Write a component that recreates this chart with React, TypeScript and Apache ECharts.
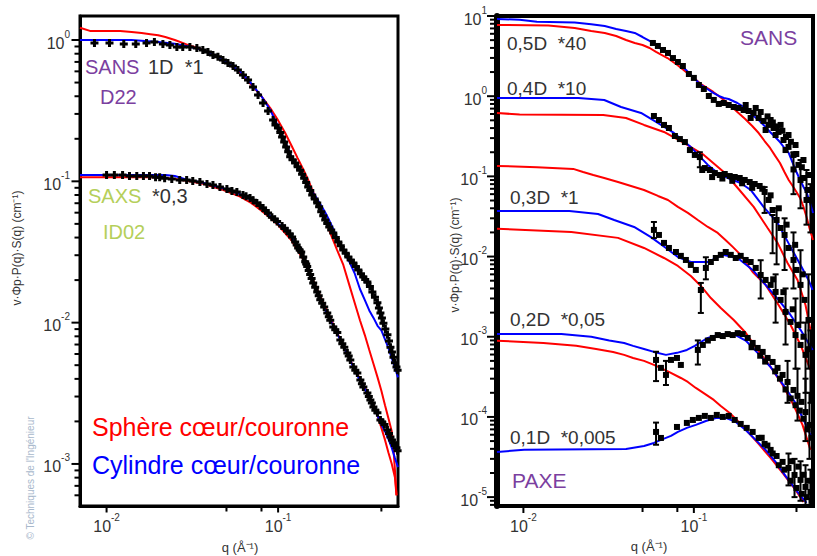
import { useEffect, useRef } from 'react';
import * as echarts from 'echarts';

type P = [number, number];
type E = [number, number, number];

// ---------- axes ----------
const Q_MIN = 0.007;
const Q_MAX = 0.5;
const LEFT_I_MIN = 5.04e-4;
const LEFT_I_MAX = 1.479;
const RIGHT_I_MIN = 7.75e-6;
const RIGHT_I_MAX = 10;
const X_MAJOR = [0.01, 0.1];
const X_MINOR = [0.05, 0.08, 0.4];
const LEFT_DECADES = [1e-4, 1e-3, 1e-2, 1e-1, 1];
const RIGHT_DECADES = [1e-6, 1e-5, 1e-4, 1e-3, 1e-2, 1e-1, 1, 10];
const MINOR_STEPS = [2, 3, 4, 5, 6, 7, 8, 9];

// ---------- left panel (SANS D22 / SAXS ID02) ----------
const sansRedL: P[] = [[0.007,1.22],[0.008,1.16],[0.012,1.16],[0.014,1.14],[0.016,1.12],[0.018,1.10],[0.02,1.08],[0.022,1.05],[0.025,1.0],[0.028,0.95],[0.03,0.92],[0.035,0.87],[0.04,0.81],[0.05,0.69],[0.06,0.59],[0.07,0.48],[0.08,0.40],[0.09,0.33],[0.1,0.27],[0.11,0.22],[0.12,0.178],[0.13,0.146],[0.14,0.122],[0.15,0.102],[0.16,0.084],[0.17,0.072],[0.18,0.061],[0.19,0.052],[0.2,0.044],[0.22,0.033],[0.24,0.0256],[0.26,0.0185],[0.28,0.0137],[0.3,0.0104],[0.32,0.0082],[0.34,0.0064],[0.36,0.0051],[0.38,0.0041],[0.4,0.0033],[0.42,0.0026],[0.44,0.0021],[0.46,0.0017],[0.47,0.0013],[0.48,0.0009],[0.49,0.0006]];
const sansBlueL: P[] = [[0.007,1.0],[0.014,1.0],[0.016,0.99],[0.02,0.97],[0.025,0.94],[0.03,0.90],[0.035,0.86],[0.04,0.81],[0.05,0.70],[0.06,0.60],[0.07,0.49],[0.08,0.40],[0.09,0.32],[0.1,0.245],[0.11,0.19],[0.12,0.149],[0.13,0.126],[0.14,0.111],[0.15,0.095],[0.16,0.083],[0.17,0.074],[0.18,0.066],[0.19,0.059],[0.2,0.052],[0.22,0.0404],[0.24,0.0327],[0.26,0.027],[0.28,0.0222],[0.3,0.0173],[0.32,0.0145],[0.34,0.0122],[0.36,0.0108],[0.38,0.0095],[0.4,0.0088],[0.42,0.0076],[0.44,0.0066],[0.46,0.0056],[0.48,0.0048],[0.5,0.0041]];
const sansDataL: P[] = [[0.0085,0.952],[0.0104,0.952],[0.0126,0.937],[0.0148,0.937],[0.0171,0.952],[0.019,0.968],[0.0213,0.937],[0.0234,0.922],[0.0257,0.892],[0.0278,0.892],[0.0306,0.892],[0.0336,0.878],[0.0364,0.85],[0.039,0.822],[0.0417,0.783],[0.0446,0.76],[0.0477,0.722],[0.051,0.688],[0.0546,0.655],[0.0583,0.613],[0.0624,0.565],[0.0668,0.521],[0.0714,0.465],[0.0764,0.408],[0.0817,0.358],[0.0874,0.314],[0.0935,0.272],[0.1,0.238],[0.1055,0.206],[0.1114,0.175],[0.1176,0.149],[0.1258,0.135],[0.1345,0.12],[0.1419,0.105],[0.1498,0.0912],[0.1581,0.08],[0.1691,0.0702],[0.1784,0.061],[0.1883,0.0532],[0.1988,0.0475],[0.2098,0.0431],[0.2244,0.0372],[0.24,0.0327],[0.2567,0.0291],[0.2746,0.0264],[0.2937,0.0236],[0.3141,0.021],[0.3315,0.0194],[0.3545,0.0165],[0.3793,0.0138],[0.3949,0.0117],[0.4111,0.0099],[0.434,0.0082],[0.4519,0.0067],[0.4705,0.0057],[0.4898,0.00485],[0.0965,0.25],[0.103,0.222],[0.1085,0.19],[0.1145,0.162],[0.1215,0.142],[0.13,0.127],[0.138,0.112],[0.1458,0.098],[0.154,0.086],[0.1635,0.075],[0.1735,0.066],[0.1833,0.057],[0.1935,0.0503],[0.204,0.0452],[0.217,0.04],[0.232,0.035],[0.248,0.031],[0.265,0.0277],[0.284,0.025],[0.304,0.0222],[0.322,0.0202],[0.343,0.018],[0.367,0.0151],[0.387,0.0127],[0.403,0.0108],[0.422,0.009],[0.443,0.0074],[0.461,0.0062],[0.48,0.0052],[0.4973,0.0046]];
const saxsRedL: P[] = [[0.007,0.107],[0.02,0.107],[0.025,0.104],[0.03,0.1005],[0.037,0.0957],[0.048,0.0868],[0.06,0.078],[0.07,0.07],[0.08,0.062],[0.09,0.055],[0.1,0.049],[0.12,0.038],[0.14,0.028],[0.16,0.02],[0.18,0.0145],[0.2,0.011],[0.22,0.0086],[0.24,0.0068],[0.26,0.0056],[0.28,0.0047],[0.3,0.004],[0.32,0.0035],[0.34,0.003],[0.36,0.0026],[0.38,0.0022],[0.4,0.0018],[0.42,0.00148],[0.44,0.0012],[0.46,0.001],[0.48,0.0008],[0.49,0.0006]];
const saxsBlueL: P[] = [[0.007,0.111],[0.022,0.111],[0.025,0.109],[0.03,0.102],[0.035,0.099],[0.04,0.095],[0.05,0.088],[0.06,0.081],[0.07,0.074],[0.08,0.066],[0.09,0.057],[0.1,0.05],[0.11,0.046],[0.12,0.041],[0.13,0.034],[0.14,0.029],[0.15,0.024],[0.16,0.019],[0.18,0.0137],[0.2,0.0106],[0.22,0.0085],[0.24,0.0068],[0.26,0.0056],[0.28,0.0046],[0.3,0.0039],[0.32,0.0034],[0.34,0.0029],[0.36,0.0025],[0.38,0.0022],[0.4,0.0019],[0.42,0.0017],[0.44,0.0015],[0.46,0.0013],[0.48,0.0011],[0.5,0.00095]];
const saxsDataL: P[] = [[0.01,0.111],[0.0111,0.111],[0.0124,0.111],[0.0136,0.109],[0.015,0.109],[0.0164,0.109],[0.0178,0.109],[0.0193,0.107],[0.0204,0.107],[0.0218,0.105],[0.024,0.104],[0.0267,0.102],[0.0293,0.102],[0.0318,0.1005],[0.035,0.099],[0.0385,0.0957],[0.0417,0.0942],[0.0458,0.0912],[0.0503,0.0883],[0.0538,0.0853],[0.0575,0.084],[0.0624,0.08],[0.0686,0.0763],[0.0752,0.0702],[0.0817,0.0647],[0.0874,0.0597],[0.092,0.0557],[0.0987,0.052],[0.1055,0.0483],[0.1129,0.0445],[0.1207,0.0404],[0.1258,0.0372],[0.1309,0.0337],[0.1364,0.0316],[0.1401,0.0291],[0.1439,0.027],[0.1478,0.025],[0.1538,0.0219],[0.1602,0.0191],[0.1691,0.0165],[0.1761,0.0145],[0.1857,0.0129],[0.1935,0.0117],[0.2014,0.0104],[0.2098,0.0093],[0.2214,0.0085],[0.2306,0.00753],[0.2432,0.0067],[0.2533,0.0061],[0.2636,0.00544],[0.2746,0.00485],[0.2897,0.0044],[0.3017,0.00393],[0.3141,0.0035],[0.3315,0.00318],[0.3451,0.00283],[0.3594,0.00253],[0.3793,0.0023],[0.3949,0.00205],[0.4167,0.0019],[0.434,0.00174],[0.4519,0.00155],[0.4705,0.00141],[0.4898,0.0013],[0.065,0.0785],[0.0715,0.0735],[0.0785,0.0675],[0.0845,0.062],[0.0955,0.0538],[0.109,0.0465],[0.1168,0.0425],[0.1283,0.0355],[0.1336,0.0326],[0.1458,0.026],[0.1508,0.0234],[0.1568,0.0205],[0.1645,0.0178],[0.1725,0.0155],[0.1808,0.0137],[0.1975,0.011],[0.2155,0.0089],[0.2368,0.0071],[0.258,0.0058],[0.282,0.0046],[0.308,0.0037],[0.338,0.003],[0.352,0.0027],[0.369,0.0024],[0.405,0.00197],[0.443,0.00164],[0.461,0.00148],[0.48,0.00135],[0.4973,0.00124]];

// ---------- right panel (SANS / PAXE dilutions) ----------
const blue05: P[] = [[0.007,9.18],[0.0095,9.0],[0.012,8.5],[0.02,8.3],[0.025,7.9],[0.03,7.5],[0.035,6.89],[0.04,6.5],[0.045,6.14],[0.05,5.47],[0.055,4.88],[0.06,4.35],[0.065,3.77],[0.07,3.46],[0.075,2.99],[0.08,2.67],[0.09,2.12],[0.1,1.69],[0.11,1.38],[0.12,1.23],[0.13,1.1],[0.14,1.006],[0.15,0.95],[0.16,0.923],[0.18,0.822],[0.2,0.713],[0.22,0.583],[0.24,0.505],[0.26,0.425],[0.28,0.358],[0.3,0.31],[0.32,0.268],[0.34,0.226],[0.36,0.196],[0.38,0.147],[0.4,0.1135],[0.42,0.0902],[0.44,0.0738],[0.46,0.0621],[0.48,0.0466],[0.5,0.035]];
const red05: P[] = [[0.007,7.73],[0.014,7.6],[0.02,7.08],[0.025,6.5],[0.03,6.14],[0.035,5.63],[0.04,5.02],[0.045,4.61],[0.05,4.35],[0.055,3.99],[0.06,3.56],[0.07,2.99],[0.08,2.45],[0.09,2.0],[0.1,1.69],[0.11,1.42],[0.12,1.26],[0.13,1.13],[0.14,1.006],[0.15,0.898],[0.16,0.8],[0.18,0.635],[0.2,0.52],[0.22,0.425],[0.24,0.347],[0.26,0.276],[0.28,0.226],[0.3,0.18],[0.32,0.147],[0.34,0.1135],[0.36,0.0902],[0.38,0.0759],[0.4,0.0638],[0.42,0.0538],[0.44,0.0415],[0.46,0.0303],[0.48,0.0215],[0.5,0.0161]];
const data05: P[] = [[0.0575,4.61],[0.0615,4.23],[0.0659,3.77],[0.0705,3.46],[0.0754,2.99],[0.0806,2.67],[0.0862,2.38],[0.0935,1.89],[0.1,1.69],[0.107,1.38],[0.1144,1.23],[0.1224,1.006],[0.1309,0.898],[0.14,0.8],[0.1497,0.822],[0.1601,0.777],[0.1713,0.733],[0.1832,0.713],[0.1959,0.673],[0.2096,0.654],[0.2242,0.618],[0.2398,0.535],[0.2565,0.491],[0.2744,0.438],[0.2935,0.401],[0.3139,0.358],[0.3358,0.284],[0.3592,0.233],[0.3842,0.185],[0.4109,0.139],[0.4395,0.0955],[0.4641,0.0676],[0.4831,0.0508],[0.2014,0.777],[0.2154,0.535],[0.2306,0.713],[0.2466,0.635],[0.2636,0.379],[0.2821,0.505],[0.3017,0.328],[0.3227,0.438],[0.3451,0.213],[0.3592,0.328],[0.3842,0.122],[0.3949,0.246],[0.4224,0.09],[0.4395,0.16],[0.458,0.0508],[0.4705,0.104],[0.2706,0.56],[0.2906,0.47],[0.3067,0.42],[0.3305,0.37],[0.347,0.31],[0.371,0.27],[0.399,0.19],[0.43,0.13]];
const err05: E[] = [[0.3842,0.06,0.2],[0.4224,0.04,0.16],[0.458,0.025,0.12],[0.4831,0.02,0.08]];

const blue04: P[] = [[0.007,0.95],[0.021,0.95],[0.0298,0.896],[0.0374,0.733],[0.049,0.618],[0.06,0.477],[0.0764,0.348],[0.096,0.232],[0.1208,0.139],[0.1381,0.11],[0.158,0.0955],[0.1883,0.0827],[0.2154,0.0677],[0.2565,0.0416],[0.3097,0.0263],[0.369,0.0132],[0.4224,0.00786],[0.4705,0.00511],[0.497,0.00383]];
const red04: P[] = [[0.007,0.618],[0.0095,0.59],[0.0294,0.582],[0.04,0.535],[0.051,0.438],[0.0668,0.358],[0.0874,0.261],[0.1144,0.185],[0.1498,0.1135],[0.1809,0.0716],[0.2244,0.0416],[0.2709,0.0227],[0.3097,0.0148],[0.3545,0.00832],[0.4056,0.00511],[0.4519,0.00249],[0.4831,0.00122]];
const data04: P[] = [[0.0583,0.566],[0.0624,0.505],[0.0668,0.438],[0.0714,0.401],[0.0774,0.319],[0.0828,0.292],[0.0886,0.268],[0.0948,0.213],[0.1013,0.185],[0.1084,0.174],[0.116,0.127],[0.1241,0.12],[0.1327,0.11],[0.1419,0.104],[0.1518,0.107],[0.1623,0.101],[0.1737,0.0983],[0.1858,0.0955],[0.1988,0.0902],[0.2126,0.085],[0.2274,0.0804],[0.2432,0.0759],[0.2601,0.0639],[0.2744,0.0508],[0.2897,0.0381],[0.3058,0.0286],[0.3227,0.0227],[0.3406,0.0186],[0.3592,0.0128],[0.3842,0.00907],[0.4003,0.00681],[0.4224,0.00443],[0.4457,0.00288],[0.4705,0.00162],[0.112,0.12],[0.128,0.098],[0.147,0.094],[0.168,0.088],[0.192,0.082],[0.22,0.072],[0.252,0.07],[0.282,0.058],[0.315,0.04],[0.35,0.025],[0.393,0.014],[0.435,0.006]];
const err04: E[] = [[0.1084,0.13,0.2],[0.2601,0.035,0.0735],[0.2897,0.011,0.033],[0.3058,0.008,0.04],[0.3406,0.0068,0.03],[0.3842,0.004,0.02],[0.4224,0.0015,0.012],[0.4705,0.0004,0.006]];

const redUpper03: P[] = [[0.007,0.135],[0.012,0.13],[0.0196,0.124],[0.0224,0.1135],[0.0257,0.104],[0.0298,0.0955],[0.0359,0.085],[0.0428,0.0759],[0.051,0.0677],[0.0616,0.057],[0.0705,0.0508],[0.0806,0.0416],[0.0922,0.035],[0.1055,0.0286],[0.1208,0.0234],[0.1381,0.0197],[0.1538,0.016],[0.1691,0.0132],[0.1883,0.0105],[0.2069,0.00786],[0.2213,0.00642],[0.2636,0.00443],[0.314,0.00249],[0.369,0.00141],[0.4224,0.00079],[0.4831,0.000386]];
const red03: P[] = [[0.007,0.0222],[0.0191,0.0202],[0.0359,0.0171],[0.051,0.0128],[0.0668,0.0096],[0.0806,0.00764],[0.096,0.00573],[0.1099,0.0043],[0.1258,0.00304],[0.1439,0.00228],[0.1714,0.00162],[0.2014,0.00112],[0.2367,0.000685],[0.2821,0.00042],[0.3315,0.00025],[0.3842,0.000141],[0.434,7.95e-5],[0.4831,3.88e-5]];
const blue03: P[] = [[0.007,0.037],[0.0186,0.037],[0.0274,0.034],[0.0341,0.0286],[0.0446,0.0234],[0.056,0.0175],[0.0686,0.0128],[0.0806,0.00989],[0.096,0.00856],[0.1208,0.00856],[0.1478,0.0105],[0.1809,0.0096],[0.2213,0.00681],[0.2636,0.00443],[0.314,0.00288],[0.369,0.00187],[0.4224,0.00122],[0.497,0.000685]];
const data03: P[] = [[0.0583,0.0215],[0.0624,0.0186],[0.0668,0.0148],[0.0714,0.0128],[0.0785,0.0114],[0.0839,0.0102],[0.0898,0.00907],[0.096,0.00786],[0.1027,0.00681],[0.1099,0.00383],[0.1176,0.00721],[0.1258,0.00856],[0.1345,0.0096],[0.1439,0.0105],[0.1538,0.0114],[0.1646,0.0105],[0.1761,0.0096],[0.1883,0.0102],[0.2014,0.00907],[0.2154,0.00856],[0.2306,0.00721],[0.2466,0.00589],[0.2636,0.00511],[0.2821,0.00443],[0.3017,0.00362],[0.3227,0.00288],[0.3451,0.00204],[0.369,0.00153],[0.3949,0.00105],[0.4224,0.00079],[0.4519,0.000594],[0.292,0.0052],[0.335,0.0036],[0.38,0.0022],[0.41,0.0014],[0.44,0.001],[0.47,0.0007]];
const err03: E[] = [[0.0583,0.017,0.027],[0.1099,0.00198,0.00469],[0.1176,0.0052,0.0098],[0.2466,0.003,0.009],[0.3017,0.0015,0.006],[0.3451,0.0008,0.004],[0.3949,0.0004,0.003],[0.4519,0.0002,0.0015],[0.4831,0.00015,0.0012]];

const blue02: P[] = [[0.007,0.00108],[0.0167,0.00108],[0.025,0.001],[0.0319,0.000897],[0.039,0.000837],[0.044,0.00077],[0.051,0.000705],[0.0583,0.000647],[0.0686,0.000594],[0.0796,0.00063],[0.091,0.000685],[0.1013,0.00077],[0.1099,0.00086],[0.1208,0.000966],[0.1439,0.00108],[0.1714,0.00108],[0.2014,0.000897],[0.2335,0.000647],[0.2821,0.00042],[0.3097,0.000315],[0.3451,0.00023],[0.3949,0.000149],[0.458,7.72e-5],[0.497,5.17e-5]];
const red02: P[] = [[0.007,0.000893],[0.0131,0.000837],[0.0204,0.00077],[0.0267,0.000705],[0.0336,0.000647],[0.039,0.000594],[0.044,0.000544],[0.051,0.0005],[0.0583,0.000445],[0.0714,0.000364],[0.0839,0.000306],[0.0922,0.000273],[0.1027,0.00023],[0.116,0.000194],[0.1309,0.000163],[0.1439,0.000137],[0.1623,0.000112],[0.1883,8.18e-5],[0.2098,6.32e-5],[0.2398,4.61e-5],[0.2821,3.08e-5],[0.3359,1.94e-5],[0.3949,1.23e-5],[0.4395,8.7e-6]];
const data02: P[] = [[0.06,0.000514],[0.0641,0.000409],[0.0686,0.000334],[0.0734,0.000514],[0.0796,0.000544],[0.0839,0.000445],[0.1055,0.000685],[0.1129,0.00079],[0.1208,0.000897],[0.1292,0.000966],[0.1381,0.00105],[0.1478,0.00102],[0.158,0.00108],[0.1691,0.00105],[0.1809,0.00111],[0.1935,0.00108],[0.2069,0.000966],[0.2213,0.000837],[0.2367,0.000725],[0.2533,0.000647],[0.2709,0.000544],[0.2897,0.000485],[0.3097,0.000409],[0.3315,0.000334],[0.3545,0.000273],[0.3842,0.000217],[0.4056,0.000183],[0.4282,0.000154],[0.4519,0.000115],[0.4768,7.95e-5],[0.218,0.00074],[0.245,0.00058],[0.262,0.00049],[0.3,0.00037],[0.32,0.0003],[0.345,0.00022],[0.37,0.00017],[0.395,0.00014],[0.418,0.00012],[0.44,9.5e-5],[0.465,7e-5],[0.49,5.5e-5]];
const err02: E[] = [[0.06,0.00028,0.00065],[0.0686,0.00025,0.0005],[0.1055,0.00045,0.0009],[0.3545,0.00015,0.0005],[0.4056,0.00009,0.0004],[0.4519,0.00005,0.0003],[0.4768,0.00003,0.0002]];

const blue01: P[] = [[0.007,3.66e-5],[0.0101,3.9e-5],[0.04,3.99e-5],[0.051,4.35e-5],[0.0583,4.74e-5],[0.0641,5.17e-5],[0.0734,5.8e-5],[0.0806,6.5e-5],[0.091,7.3e-5],[0.1027,7.95e-5],[0.1176,8.91e-5],[0.1345,9.72e-5],[0.1538,9.72e-5],[0.1761,8.66e-5],[0.2014,6.88e-5],[0.2306,5.17e-5],[0.2636,3.88e-5],[0.3017,2.75e-5],[0.3451,1.84e-5],[0.4056,1.16e-5],[0.458,8.5e-6]];
const data01: P[] = [[0.06,6.5e-5],[0.0641,5.47e-5],[0.0796,7.5e-5],[0.091,8.42e-5],[0.0987,9.17e-5],[0.107,9.72e-5],[0.116,1.03e-4],[0.1258,9.72e-5],[0.1363,1.06e-4],[0.1478,1.0e-4],[0.1601,1.03e-4],[0.1737,9.17e-5],[0.1883,8.18e-5],[0.2042,7.3e-5],[0.2213,6.5e-5],[0.2398,5.47e-5],[0.2601,4.61e-5],[0.2821,3.88e-5],[0.3058,3.26e-5],[0.3315,2.75e-5],[0.3592,2.31e-5],[0.3896,1.89e-5],[0.4224,1.64e-5],[0.4519,1.34e-5],[0.4831,1.16e-5],[0.25,5.5e-5],[0.27,4.4e-5],[0.29,3.5e-5],[0.315,2.5e-5],[0.34,2.2e-5],[0.37,1.6e-5],[0.4,1.3e-5],[0.43,1.1e-5],[0.46,1.0e-5],[0.49,9e-6],[0.375,2.8e-5],[0.41,2.4e-5],[0.44,1.9e-5],[0.47,1.6e-5]];
const err01: E[] = [[0.06,4.5e-5,8.5e-5],[0.3592,1.4e-5,3.5e-5],[0.3896,1.0e-5,3e-5],[0.4224,9e-6,2.8e-5],[0.4519,8e-6,2.5e-5],[0.4831,8e-6,2.2e-5]];

// ---------- text ----------
const FONT = 'Arial, "Liberation Sans", sans-serif';
const RED = '#ff0000';
const BLUE = '#0000ff';
const PURPLE = '#7b3fa0';
const YGREEN = '#b5cf5a';
const DARK = '#333333';

function majors(decades: number[], lo: number, hi: number) {
  return decades.filter((d) => d >= lo * 0.999 && d <= hi * 1.001);
}
function minors(decades: number[], lo: number, hi: number) {
  const out: number[] = [];
  decades.forEach((d) => MINOR_STEPS.forEach((m) => {
    const v = d * m;
    if (v > lo && v < hi) out.push(v);
  }));
  return out;
}

function powLabel(v: number) {
  const l = Math.log10(v);
  const e = Math.round(l);
  if (Math.abs(l - e) > 1e-6) return '';
  return `{b|10}{s|${e}}`;
}
const richLabel = {
  b: { fontSize: 16, fontFamily: FONT, color: DARK, lineHeight: 22, verticalAlign: 'bottom' },
  s: { fontSize: 10, fontFamily: FONT, color: DARK, lineHeight: 22, verticalAlign: 'top' },
};

function yTicks(xi: number, yi: number, vals: number[], len: number, off: number, w: number) {
  return {
    type: 'custom', xAxisIndex: xi, yAxisIndex: yi, silent: true, clip: false, z: 10,
    data: vals.map((v) => [Q_MIN, v]),
    renderItem: (_p: any, api: any) => {
      const p = api.coord([api.value(0), api.value(1)]);
      return { type: 'line', shape: { x1: p[0] - off - len, y1: p[1], x2: p[0] - off + 1, y2: p[1] }, style: { stroke: '#000', lineWidth: w } };
    },
  };
}
function xTicks(xi: number, yi: number, vals: number[], yMin: number, len: number, off: number, w: number) {
  return {
    type: 'custom', xAxisIndex: xi, yAxisIndex: yi, silent: true, clip: false, z: 10,
    data: vals.map((v) => [v, yMin]),
    renderItem: (_p: any, api: any) => {
      const p = api.coord([api.value(0), api.value(1)]);
      return { type: 'line', shape: { x1: p[0], y1: p[1] + off - 1, x2: p[0], y2: p[1] + off + len }, style: { stroke: '#000', lineWidth: w } };
    },
  };
}
function lineS(xi: number, yi: number, data: P[], color: string) {
  return { type: 'line', xAxisIndex: xi, yAxisIndex: yi, data, symbol: 'none', showSymbol: false, silent: true, z: 2, lineStyle: { color, width: 2 }, itemStyle: { color } };
}
function dotS(xi: number, yi: number, data: P[], symbol: string, size: number) {
  return { type: 'scatter', xAxisIndex: xi, yAxisIndex: yi, data, symbol, symbolSize: size, silent: true, z: 4, itemStyle: { color: '#000', opacity: 1 } };
}
function errS(xi: number, yi: number, data: E[]) {
  return {
    type: 'custom', xAxisIndex: xi, yAxisIndex: yi, silent: true, z: 4, data,
    encode: { x: 0, y: [1, 2] },
    renderItem: (_p: any, api: any) => {
      const q = api.value(0);
      const lo = api.coord([q, api.value(1)]);
      const hi = api.coord([q, api.value(2)]);
      const st = { stroke: '#000', lineWidth: 2 };
      return {
        type: 'group', children: [
          { type: 'line', shape: { x1: lo[0], y1: lo[1], x2: hi[0], y2: hi[1] }, style: st },
          { type: 'line', shape: { x1: lo[0] - 3, y1: lo[1], x2: lo[0] + 3, y2: lo[1] }, style: st },
          { type: 'line', shape: { x1: hi[0] - 3, y1: hi[1], x2: hi[0] + 3, y2: hi[1] }, style: st },
        ],
      };
    },
  };
}
function txt(x: number, y: number, text: string, fill: string, size: number, rotation = 0, align = 'left') {
  return {
    type: 'text', x, y, rotation, silent: true, z: 20,
    style: { text, fill, fontSize: size, fontFamily: FONT, align, verticalAlign: 'middle', textAlign: align, textVerticalAlign: 'middle' },
  };
}

const PLUS = 'path://M2.5,0H5.5V2.5H8V5.5H5.5V8H2.5V5.5H0V2.5H2.5Z';

export default function App() {
  const ref = useRef<HTMLDivElement>(null);
  useEffect(() => {
    document.body.style.margin = '0';
    if (!ref.current) return;
    const chart = echarts.init(ref.current, null, { renderer: 'svg' });
    const xAxisBase = (gi: number) => ({
      type: 'log', gridIndex: gi, min: Q_MIN, max: Q_MAX, logBase: 10,
      axisLine: { show: true, lineStyle: { color: '#000', width: gi === 0 ? 3 : 4 } },
      axisTick: { show: false }, splitLine: { show: false }, minorTick: { show: false },
      axisLabel: { formatter: powLabel, rich: richLabel, margin: 6, hideOverlap: false },
    });
    const option: any = {
      animation: false,
      backgroundColor: '#ffffff',
      grid: [
        { left: 80, top: 16, width: 318, height: 490, show: true, borderColor: '#000', borderWidth: 3, backgroundColor: 'transparent' },
        { left: 497, top: 16, width: 316, height: 490, show: true, borderColor: '#000', borderWidth: 4, backgroundColor: 'transparent' },
      ],
      xAxis: [xAxisBase(0), xAxisBase(1)],
      yAxis: [
        {
          type: 'log', gridIndex: 0, min: LEFT_I_MIN, max: LEFT_I_MAX, logBase: 10,
          axisLine: { show: true, lineStyle: { color: '#000', width: 3 } },
          axisTick: { show: false }, splitLine: { show: false }, minorTick: { show: false },
          axisLabel: { formatter: powLabel, rich: richLabel, margin: 10 },
        },
        {
          type: 'log', gridIndex: 1, min: RIGHT_I_MIN, max: RIGHT_I_MAX, logBase: 10,
          axisLine: { show: true, lineStyle: { color: '#000', width: 6 } },
          axisTick: { show: false }, splitLine: { show: false }, minorTick: { show: false },
          axisLabel: { formatter: powLabel, rich: richLabel, margin: 10 },
        },
      ],
      series: [
        // ticks
        yTicks(0, 0, majors(LEFT_DECADES, LEFT_I_MIN, LEFT_I_MAX), 7, 1.5, 2),
        yTicks(0, 0, minors(LEFT_DECADES, LEFT_I_MIN, LEFT_I_MAX), 4, 1.5, 2),
        xTicks(0, 0, X_MAJOR, LEFT_I_MIN, 5, 1.5, 2),
        xTicks(0, 0, X_MINOR, LEFT_I_MIN, 4, 1.5, 2),
        yTicks(1, 1, majors(RIGHT_DECADES, RIGHT_I_MIN, RIGHT_I_MAX), 7, 3, 2),
        yTicks(1, 1, minors(RIGHT_DECADES, RIGHT_I_MIN, RIGHT_I_MAX), 4, 3, 2),
        xTicks(1, 1, X_MAJOR, RIGHT_I_MIN, 5, 2, 2),
        xTicks(1, 1, X_MINOR, RIGHT_I_MIN, 4, 2, 2),
        // left panel
        lineS(0, 0, sansRedL, RED),
        lineS(0, 0, saxsRedL, RED),
        lineS(0, 0, sansBlueL, BLUE),
        lineS(0, 0, saxsBlueL, BLUE),
        dotS(0, 0, sansDataL, PLUS, 8),
        dotS(0, 0, saxsDataL, PLUS, 8),
        // right panel
        lineS(1, 1, red05, RED),
        lineS(1, 1, red04, RED),
        lineS(1, 1, redUpper03, RED),
        lineS(1, 1, red03, RED),
        lineS(1, 1, red02, RED),
        lineS(1, 1, blue05, BLUE),
        lineS(1, 1, blue04, BLUE),
        lineS(1, 1, blue03, BLUE),
        lineS(1, 1, blue02, BLUE),
        lineS(1, 1, blue01, BLUE),
        errS(1, 1, err05), errS(1, 1, err04), errS(1, 1, err03), errS(1, 1, err02), errS(1, 1, err01),
        dotS(1, 1, data05, 'rect', 6),
        dotS(1, 1, data04, 'rect', 6),
        dotS(1, 1, data03, 'rect', 6),
        dotS(1, 1, data02, 'rect', 6),
        dotS(1, 1, data01, 'rect', 6),
      ],
      graphic: { elements: [
        txt(85, 67, 'SANS', PURPLE, 20),
        txt(148, 67, '1D  *1', DARK, 20),
        txt(100, 97, 'D22', PURPLE, 20),
        txt(88, 196, 'SAXS', YGREEN, 20),
        txt(152, 196, '*0,3', DARK, 20),
        txt(103, 232, 'ID02', YGREEN, 20),
        txt(92, 427, 'Sphère cœur/couronne', RED, 25),
        txt(92, 465, 'Cylindre cœur/couronne', BLUE, 25),
        txt(507, 43, '0,5D  *40', DARK, 19),
        txt(507, 88, '0,4D  *10', DARK, 19),
        txt(740, 37, 'SANS', PURPLE, 21),
        txt(510, 197, '0,3D  *1', DARK, 19),
        txt(510, 319, '0,2D  *0,05', DARK, 19),
        txt(510, 437, '0,1D  *0,005', DARK, 19),
        txt(512, 480, 'PAXE', PURPLE, 21),
        txt(17, 248, 'v·Φp·P(q)·S(q) (cm⁻¹)', DARK, 12, Math.PI / 2, 'center'),
        txt(455, 255, 'v·Φp·P(q)·S(q) (cm⁻¹)', DARK, 12, Math.PI / 2, 'center'),
        txt(30, 478, "© Techniques de l'Ingénieur", '#a8b8cc', 10, Math.PI / 2, 'center'),
        txt(240, 547, 'q (Å⁻¹)', DARK, 13, 0, 'center'),
        txt(649, 546, 'q (Å⁻¹)', DARK, 13, 0, 'center'),
      ] },
    };
    chart.setOption(option);
    return () => chart.dispose();
  }, []);
  return <div ref={ref} style={{ width: 817, height: 556 }} />;
}
